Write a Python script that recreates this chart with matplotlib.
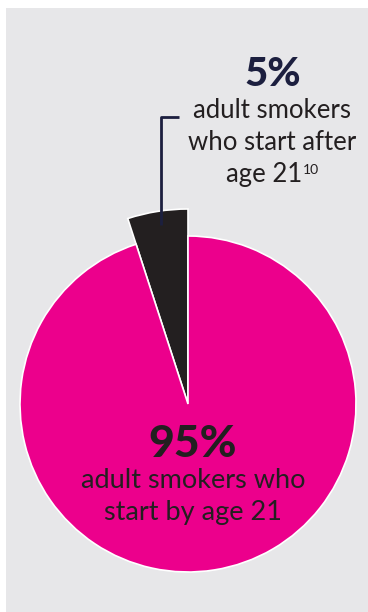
import matplotlib
matplotlib.use('Agg')
import matplotlib.pyplot as plt
from matplotlib.patches import Rectangle

# data
labels = ['start after age 21', 'start by age 21']
shares = [5, 95]
colors = ['#231f20', '#ec008c']

big_pct = ['5%', '95%']
top_lines = ['adult smokers', 'who start after', 'age 21']
top_note = '10'
bottom_lines = ['adult smokers who', 'start by age 21']

W, H = 368, 612
fig = plt.figure(figsize=(W / 100, H / 100), dpi=100)
fig.patches.append(Rectangle((6, 0), W - 6, H - 8, transform=None,
                             facecolor='#e7e7e9', edgecolor='none', zorder=-10))
ax = fig.add_axes([0, 0, 1, 1])
ax.patch.set_alpha(0)

cx, cy, r = 188, 208, 168
wedges, _ = ax.pie(shares, colors=colors, startangle=90, counterclock=True,
                   center=(cx, cy), radius=r,
                   wedgeprops=dict(edgecolor='white', linewidth=1.2))
# the small slice is pulled out past the rim
wedges[0].set_radius(195)

ax.set_xlim(0, W)
ax.set_ylim(0, H)
ax.set_aspect('equal')
ax.axis('off')

# leader line
ax.plot([179, 161, 161], [495, 495, 387], color='#1c1f3f', lw=2, solid_capstyle='butt')

font = 'Lato'
ax.text(273, 526, big_pct[0], ha='center', va='baseline', fontsize=29,
        fontweight='black', color='#1c1f3f', family=font)
for i, line in enumerate(top_lines[:2]):
    ax.text(272, 494 - 32 * i, line, ha='center', va='baseline', fontsize=18.5,
            color='#231f20', family=font)
ax.text(302, 430, top_lines[2], ha='right', va='baseline', fontsize=18.5,
        color='#231f20', family=font)
ax.text(303, 438, top_note, ha='left', va='baseline', fontsize=10,
        color='#231f20', family=font)

ax.text(193, 155, big_pct[1], ha='center', va='baseline', fontsize=32,
        fontweight='black', color='#231f20', family=font)
for i, line in enumerate(bottom_lines):
    ax.text(193, 124 - 32 * i, line, ha='center', va='baseline', fontsize=19.5,
            color='#231f20', family=font)

fig.savefig('out.png', dpi=100)
